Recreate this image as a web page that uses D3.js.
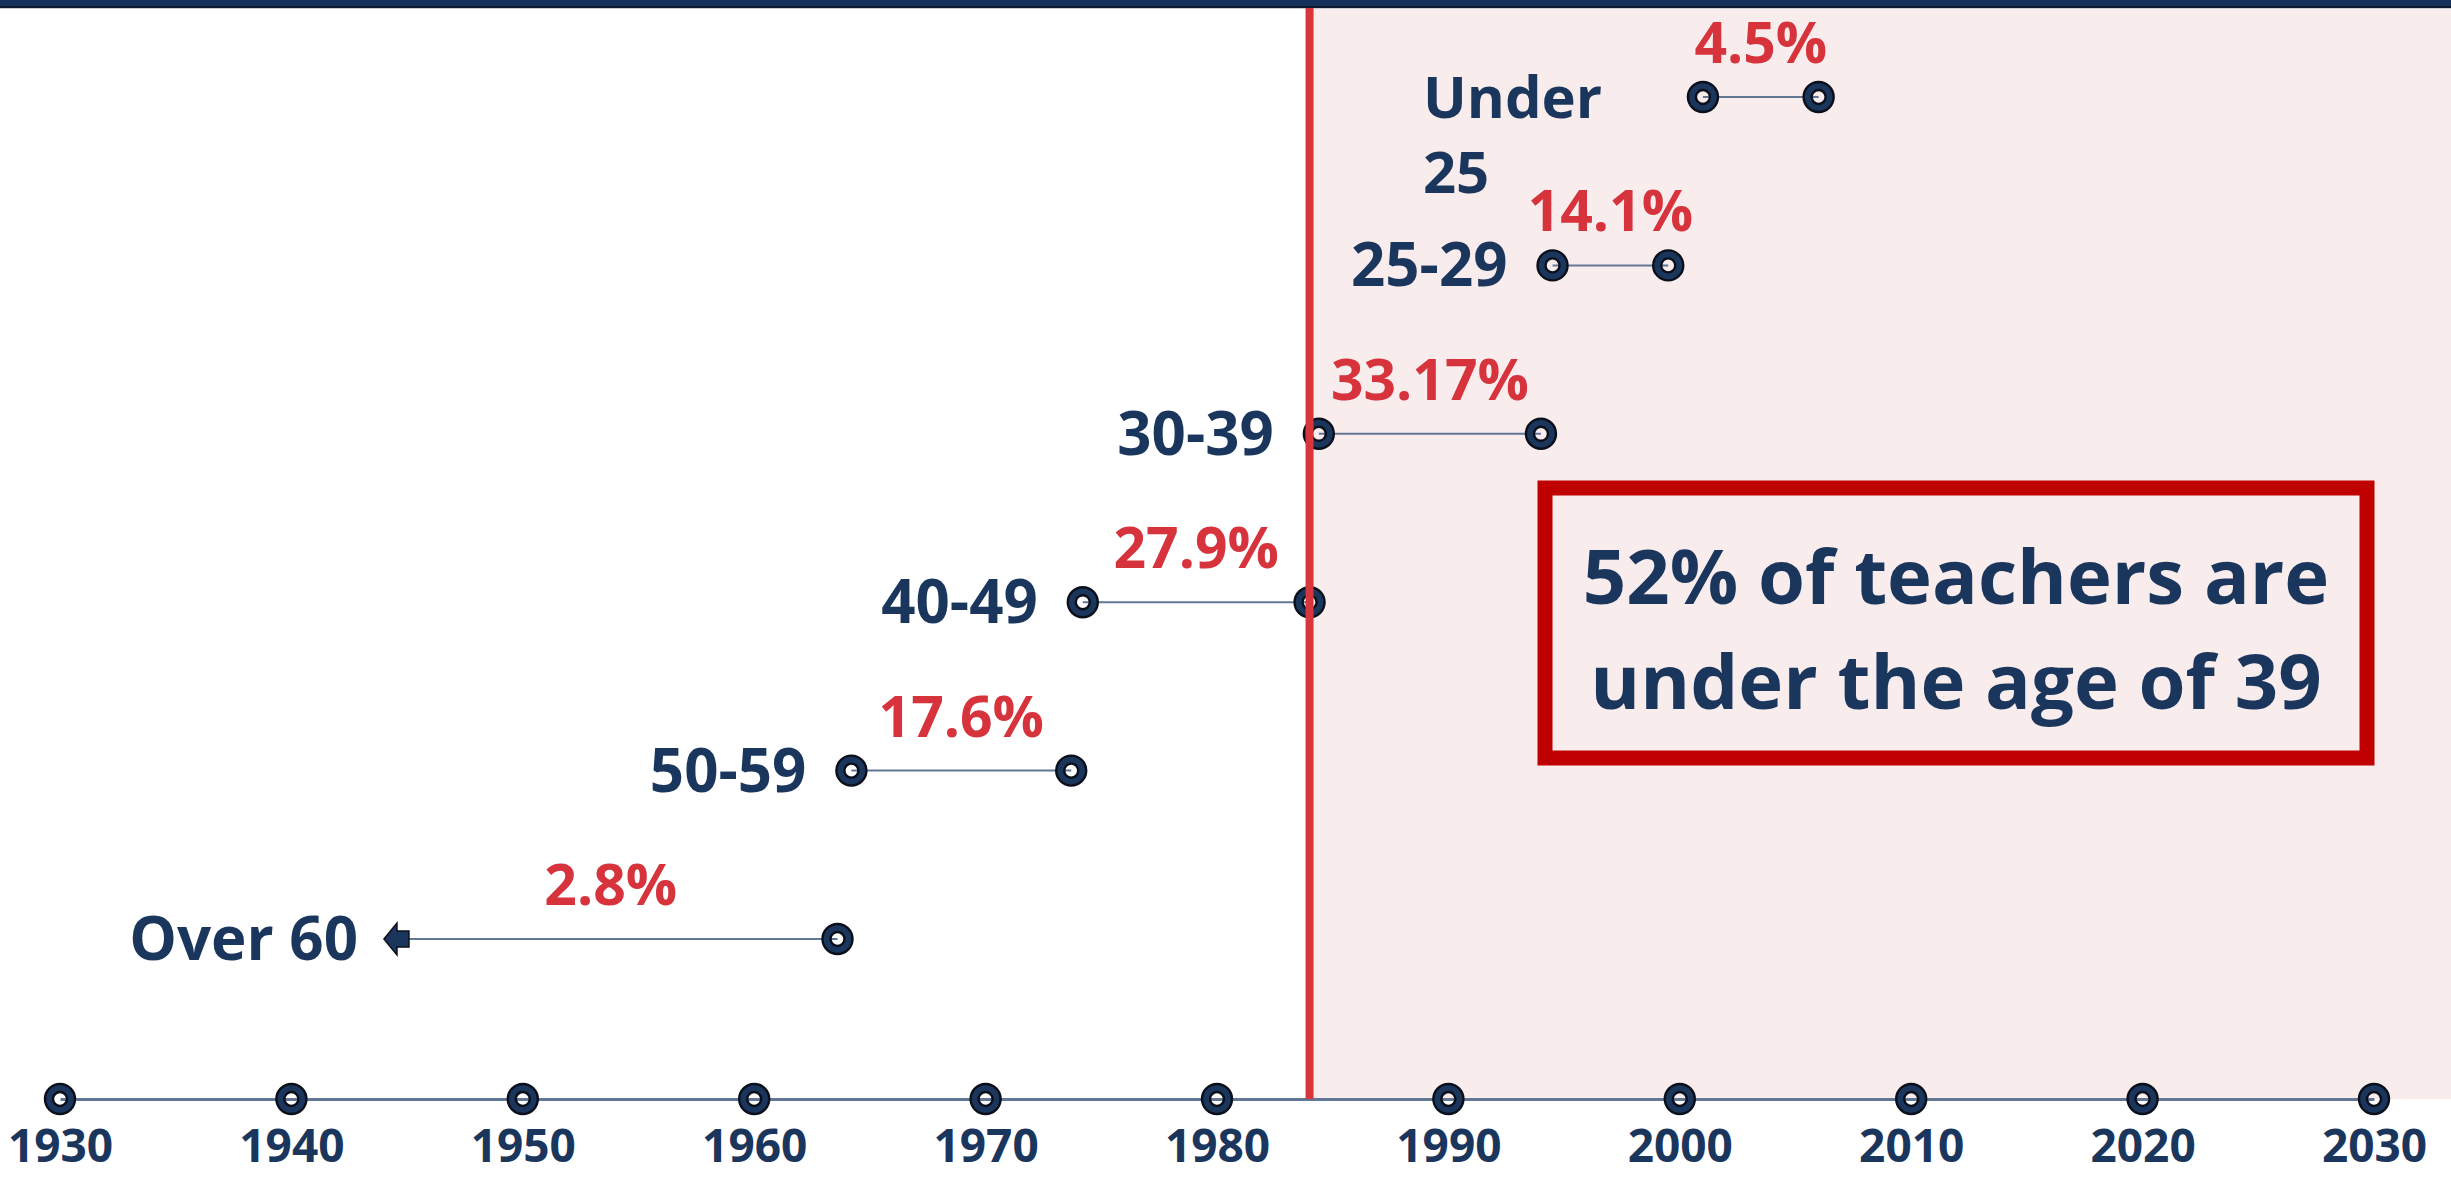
<!DOCTYPE html>
<html>
<head>
<meta charset="utf-8">
<script src="https://cdn.jsdelivr.net/npm/d3@7"></script>
<style>
  html, body { margin: 0; padding: 0; background: #ffffff; }
  svg { display: block; font-family: "Open Sans", "Noto Sans", sans-serif; font-weight: 700; }
</style>
</head>
<body>
<svg id="chart" width="2451" height="1180"></svg>
<script>
// Age bands of the teaching workforce, shown as birth-year spans on a timeline
const ageGroups   = ["Under 25", "25-29", "30-39", "40-49", "50-59", "Over 60"];
const groupLines  = [["Under", "25"], ["25-29"], ["30-39"], ["40-49"], ["50-59"], ["Over 60"]];
const bornFrom    = [2001, 1994.5, 1984.4, 1974.2, 1964.2, 1944];
const bornTo      = [2006, 1999.5, 1994, 1984, 1973.7, 1963.6];
const sharePct    = [4.5, 14.1, 33.17, 27.9, 17.6, 2.8];
const openStart   = [false, false, false, false, false, true];
const yearTicks   = [1930, 1940, 1950, 1960, 1970, 1980, 1990, 2000, 2010, 2020, 2030];
const cutoffYear  = 1984;
const calloutText = ["52% of teachers are", "under the age of 39"];

const W = 2451, H = 1180;
const navy = "#1b365d", red = "#d7333c", pink = "#f9eced", slate = "#627795";

const svg = d3.select("#chart");

const x = d3.scaleLinear().domain([1930, 2030]).range([60, 2374]);
const axisY = 1099;
const y = d3.scalePoint().domain(ageGroups).range([97, 939]);

const rows = ageGroups.map((g, i) => ({
  group: g, lines: groupLines[i], from: bornFrom[i], to: bornTo[i],
  share: sharePct[i], open: openStart[i]
}));

// shaded region for birth years after the cutoff
svg.append("rect")
  .attr("x", x(cutoffYear)).attr("y", 8)
  .attr("width", W - x(cutoffYear)).attr("height", axisY - 8)
  .attr("fill", pink);

// top banner
svg.append("rect").attr("x", 0).attr("y", 0).attr("width", W).attr("height", 6).attr("fill", "#17325a");
svg.append("rect").attr("x", 0).attr("y", 6).attr("width", W).attr("height", 2).attr("fill", "#0c1a30");
svg.append("rect").attr("x", 0).attr("y", 8).attr("width", W).attr("height", 1).attr("fill", "#c9cdd3");

// ring marker: transparent hole, dark outline
function ring(sel, cx, cy) {
  const R = 15, r = 7;
  sel.append("path")
    .attr("d", `M${cx - R},${cy}a${R},${R} 0 1,0 ${2 * R},0a${R},${R} 0 1,0 ${-2 * R},0Z` +
               `M${cx - r},${cy}a${r},${r} 0 1,0 ${2 * r},0a${r},${r} 0 1,0 ${-2 * r},0Z`)
    .attr("fill", navy).attr("fill-rule", "evenodd")
    .attr("stroke", "#0a0f1a").attr("stroke-width", 2.4);
}

// timeline axis
const axis = d3.axisBottom(x).tickValues(yearTicks).tickFormat(d3.format("d"))
  .tickSize(0).tickPadding(30);
const axG = svg.append("g").attr("transform", `translate(0,${axisY})`).call(axis);
axG.select(".domain").attr("stroke", slate).attr("stroke-width", 3);
axG.selectAll(".tick text")
  .attr("fill", navy).attr("font-size", 46).attr("font-weight", 700)
  .attr("font-family", '"Open Sans", sans-serif');
const tickG = svg.append("g");
yearTicks.forEach(t => ring(tickG, x(t), axisY));

// dumbbells
const g = svg.append("g");
rows.forEach(d => {
  const yy = y(d.group);
  const x0 = x(d.from), x1 = x(d.to);
  const lineStart = d.open ? x0 + 25 : x0;
  g.append("line")
    .attr("x1", lineStart).attr("x2", x1).attr("y1", yy).attr("y2", yy)
    .attr("stroke", slate).attr("stroke-width", 2);
  if (d.open) {
    g.append("path")
      .attr("d", `M${x0},${yy}L${x0 + 13},${yy - 16}L${x0 + 13},${yy - 8}L${x0 + 25},${yy - 8}` +
                 `L${x0 + 25},${yy + 8}L${x0 + 13},${yy + 8}L${x0 + 13},${yy + 16}Z`)
      .attr("fill", navy).attr("stroke", "#0a0f1a").attr("stroke-width", 1.5);
  } else {
    ring(g, x0, yy);
  }
  ring(g, x1, yy);

  // share label centred over the span
  g.append("text")
    .attr("x", (x0 + x1) / 2).attr("y", yy - 34)
    .attr("text-anchor", "middle")
    .attr("fill", red).attr("font-size", 57)
    .text(d.share + "%");

  // age group label
  if (d.lines.length > 1) {
    const t = g.append("text")
      .attr("x", x0 - 280).attr("y", yy + 21)
      .attr("text-anchor", "start")
      .attr("fill", navy).attr("font-size", 58);
    d.lines.forEach((ln, k) => t.append("tspan").attr("x", x0 - 280).attr("dy", k ? 75 : 0).text(ln));
  } else {
    g.append("text")
      .attr("x", x0 - (d.open ? 26 : 45)).attr("y", yy + 21)
      .attr("text-anchor", "end")
      .attr("fill", navy).attr("font-size", 60)
      .text(d.lines[0]);
  }
});

// cutoff line, drawn over the markers it crosses
svg.append("line")
  .attr("x1", x(cutoffYear)).attr("x2", x(cutoffYear))
  .attr("y1", 8).attr("y2", axisY)
  .attr("stroke", "#d9353d").attr("stroke-width", 8);

// callout box
const box = { x: 1545, y: 488, w: 822, h: 270 };
svg.append("rect")
  .attr("x", box.x).attr("y", box.y).attr("width", box.w).attr("height", box.h)
  .attr("fill", pink).attr("stroke", "#c00000").attr("stroke-width", 15);
calloutText.forEach((ln, k) => {
  svg.append("text")
    .attr("x", box.x + box.w / 2).attr("y", 604 + k * 105)
    .attr("text-anchor", "middle")
    .attr("fill", navy).attr("font-size", 76)
    .text(ln);
});
</script>
</body>
</html>
